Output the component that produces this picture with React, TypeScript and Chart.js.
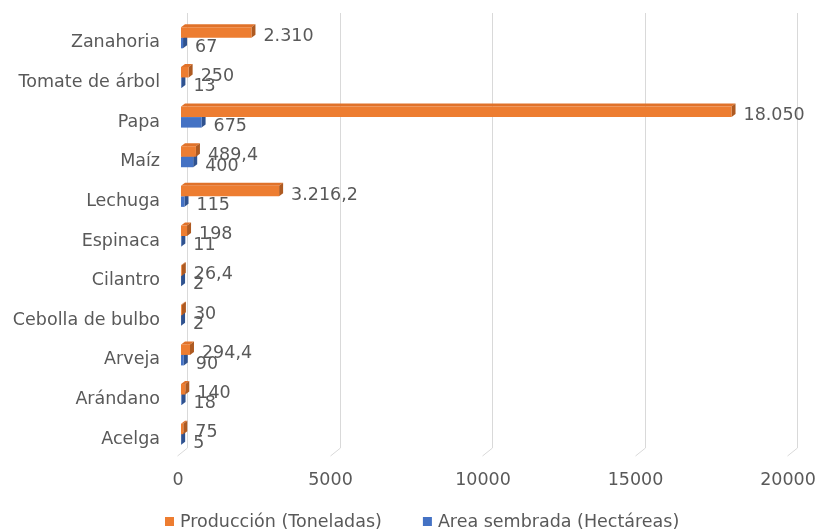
import React, { useEffect, useRef } from "react";
import { Chart, registerables } from "chart.js";

Chart.register(...registerables);

const categories = [
  "Zanahoria",
  "Tomate de árbol",
  "Papa",
  "Maíz",
  "Lechuga",
  "Espinaca",
  "Cilantro",
  "Cebolla de bulbo",
  "Arveja",
  "Arándano",
  "Acelga",
];
const produccion = [2310, 250, 18050, 489.4, 3216.2, 198, 26.4, 30, 294.4, 140, 75];
const areaSembrada = [67, 13, 675, 400, 115, 11, 2, 2, 90, 18, 5];
const xTicks = [0, 5000, 10000, 15000, 20000];
const seriesNames = ["Producción (Toneladas)", "Area sembrada (Hectáreas)"];

const TEXT = "#595959";
const FAMILY = '"DejaVu Sans", Verdana, sans-serif';
const FSIZE = 17.5;
const FONT = `${FSIZE}px ${FAMILY}`;

const COLORS = [
  { front: "#ED7D31", top: "#E0722A", side: "#AE5A21" },
  { front: "#4472C4", top: "#3D66B0", side: "#2F528F" },
];

function fmt(v: number): string {
  const [i, d] = v.toString().split(".");
  const g = i.replace(/\B(?=(\d{3})+(?!\d))/g, ".");
  return d ? g + "," + d : g;
}

const DX = 4;
const DY = -3;
const SHIFT = -6;

const threeD = {
  id: "threeD",
  beforeDatasetsDraw(chart: any) {
    const { ctx, chartArea, scales } = chart;
    const xs = scales.x;
    ctx.save();
    ctx.strokeStyle = "#D9D9D9";
    ctx.lineWidth = 1;
    xTicks.forEach((v) => {
      const x = Math.round(xs.getPixelForValue(v)) + 0.5;
      ctx.beginPath();
      ctx.moveTo(x, chartArea.top - 5);
      ctx.lineTo(x, chartArea.bottom - 6);
      ctx.lineTo(x - 10, chartArea.bottom + 2);
      ctx.stroke();
    });
    ctx.restore();

    ctx.save();
    ctx.translate(SHIFT, 0);
    for (let di = chart.data.datasets.length - 1; di >= 0; di--) {
      const meta = chart.getDatasetMeta(di);
      const c = COLORS[di];
      meta.data.forEach((el: any) => {
        const h = el.height;
        const top = el.y - h / 2;
        const bottom = el.y + h / 2;
        const x0 = el.base;
        const x1 = el.x;
        ctx.fillStyle = c.top;
        ctx.beginPath();
        ctx.moveTo(x0, top);
        ctx.lineTo(x0 + DX, top + DY);
        ctx.lineTo(x1 + DX, top + DY);
        ctx.lineTo(x1, top);
        ctx.closePath();
        ctx.fill();
        ctx.fillStyle = c.side;
        ctx.beginPath();
        ctx.moveTo(x1, top);
        ctx.lineTo(x1 + DX, top + DY);
        ctx.lineTo(x1 + DX, bottom + DY);
        ctx.lineTo(x1, bottom);
        ctx.closePath();
        ctx.fill();
      });
    }
  },
  afterDatasetsDraw(chart: any) {
    const { ctx } = chart;
    ctx.restore();
    ctx.save();
    ctx.font = FONT;
    ctx.fillStyle = TEXT;
    ctx.textAlign = "left";
    ctx.textBaseline = "middle";
    chart.data.datasets.forEach((ds: any, di: number) => {
      const meta = chart.getDatasetMeta(di);
      meta.data.forEach((el: any, i: number) => {
        ctx.fillText(fmt(ds.data[i]), el.x + 6, el.y + 4);
      });
    });
    ctx.restore();
  },
  afterDraw(chart: any) {
    const { ctx } = chart;
    ctx.save();
    ctx.font = FONT;
    ctx.textAlign = "left";
    ctx.textBaseline = "middle";
    const y = 521;
    let x = 165;
    chart.data.datasets.forEach((ds: any, di: number) => {
      ctx.fillStyle = COLORS[di].front;
      ctx.fillRect(x, y - 4, 9, 9);
      ctx.fillStyle = TEXT;
      const tx = x + 15;
      ctx.fillText(ds.label, tx, y + 1);
      x = tx + ctx.measureText(ds.label).width + 41;
    });
    ctx.restore();
  },
};

export default function App() {
  const ref = useRef<HTMLCanvasElement>(null);
  useEffect(() => {
    if (!ref.current) return;
    const chart = new Chart(ref.current, {
      type: "bar",
      data: {
        labels: categories,
        datasets: [
          {
            label: seriesNames[0],
            data: produccion,
            backgroundColor: COLORS[0].front,
            clip: false as any,
          },
          {
            label: seriesNames[1],
            data: areaSembrada,
            backgroundColor: COLORS[1].front,
            clip: false as any,
          },
        ],
      },
      options: {
        indexAxis: "y",
        responsive: false,
        devicePixelRatio: 1,
        animation: false,
        categoryPercentage: 0.53,
        barPercentage: 1,
        layout: { padding: { top: 18, right: 18, bottom: 0, left: 0 } },
        plugins: {
          legend: { display: false },
          tooltip: { enabled: false },
        },
        scales: {
          x: {
            min: 0,
            max: 20000,
            grid: { display: false, drawTicks: false },
            border: { display: false },
            afterBuildTicks: (s: any) => {
              s.ticks = xTicks.map((v) => ({ value: v }));
            },
            afterFit: (s: any) => {
              s.height = 77;
              s.paddingLeft = 0;
              s.paddingRight = 0;
            },
            ticks: {
              color: TEXT,
              font: { family: FAMILY, size: FSIZE },
              padding: 16,
              labelOffset: -9,
              maxRotation: 0,
              autoSkip: false,
              callback: (v: any) => String(v),
            },
          },
          y: {
            grid: { display: false, drawTicks: false },
            border: { display: false },
            afterFit: (s: any) => {
              s.width = 187;
              s.paddingTop = 0;
              s.paddingBottom = 0;
            },
            ticks: {
              color: TEXT,
              font: { family: FAMILY, size: FSIZE },
              padding: 27,
              labelOffset: 5,
              autoSkip: false,
            },
          },
        },
      } as any,
      plugins: [threeD],
    });
    return () => chart.destroy();
  }, []);
  return (
    <div style={{ position: "absolute", left: 0, top: 0, width: 815, height: 531, background: "#fff" }}>
      <canvas ref={ref} width={815} height={531} />
    </div>
  );
}
